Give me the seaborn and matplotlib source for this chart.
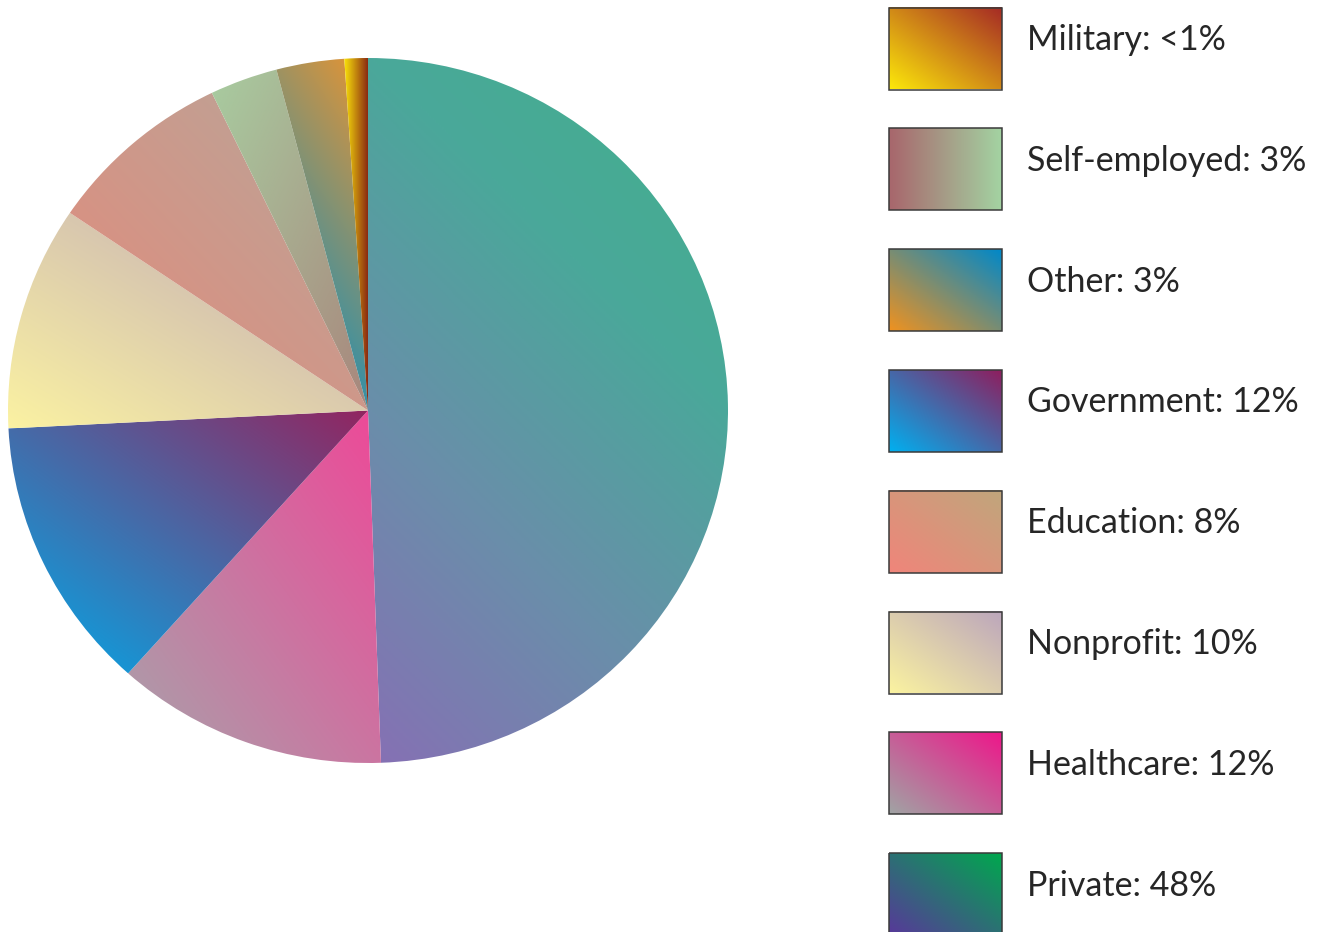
import numpy as np
import matplotlib
matplotlib.use("Agg")
import matplotlib.pyplot as plt
from matplotlib.patches import Rectangle
import seaborn as sns

# ---------------- data ----------------
categories = ["Private", "Healthcare", "Government", "Nonprofit",
              "Education", "Self-employed", "Other", "Military"]
shares = [49.5, 12.2, 12.6, 10.3, 8.4, 3.05, 3.05, 1.05]

legend_order = ["Military", "Self-employed", "Other", "Government",
                "Education", "Nonprofit", "Healthcare", "Private"]
legend_labels = ["Military: <1%", "Self-employed: 3%", "Other: 3%",
                 "Government: 12%", "Education: 8%", "Nonprofit: 10%",
                 "Healthcare: 12%", "Private: 48%"]

# gradient styles: (colour stops, start point, end point) in bbox-normalised coords
slice_grad = {
    "Private":       (["#8670b4", "#6a8eaa", "#4aa89a", "#42b08a"], (0, 0), (0.61, 1.2)),
    "Healthcare":    (["#a8a2aa", "#ee4898"], (0, 0), (1, 1)),
    "Government":    (["#00aaea", "#922560"], (0, 0), (1, 1)),
    "Nonprofit":     (["#fbf2a2", "#bfa8b8"], (0, 0), (1, 1)),
    "Education":     (["#e48a7a", "#b8a69a"], (0, 0), (1, 1)),
    "Self-employed": (["#a86a6e", "#a8cca0"], (1.4, -0.4), (0, 1)),
    "Other":         (["#ea9430", "#1a90b8"], (1, 1), (0.6, 0)),
    "Military":      (["#fbe40a", "#8a2a12"], (0, 0.5), (1, 0.5)),
}
swatch_grad = {
    "Military":      (["#fce80a", "#a52a25"], (0, 0), (1, 1)),
    "Self-employed": (["#a8666c", "#a3d3a2"], (0, 0.5), (1, 0.5)),
    "Other":         (["#f0921f", "#0088c9"], (0, 0), (1, 1)),
    "Government":    (["#00b0f0", "#8e1e5e"], (0, 0), (1, 1)),
    "Education":     (["#f0857a", "#c0a67c"], (0, 0), (1, 1)),
    "Nonprofit":     (["#fbf3a0", "#bca6bc"], (0, 0), (1, 1)),
    "Healthcare":    (["#a0a4a4", "#ee168a"], (0, 0), (1, 1)),
    "Private":       (["#58389a", "#00a84e"], (0, 0), (1, 1)),
}

sns.set_theme(style="white")
plt.rcParams["font.family"] = ["Lato", "DejaVu Sans"]


def gradient_image(stops, p0, p1, n=300):
    cmap = sns.blend_palette(stops, as_cmap=True)
    u, v = np.meshgrid(np.linspace(0, 1, n), np.linspace(0, 1, n))
    d = np.array(p1, float) - np.array(p0, float)
    t = ((u - p0[0]) * d[0] + (v - p0[1]) * d[1]) / (d @ d)
    return cmap(np.clip(t, 0, 1))


W, H = 1328, 932
fig = plt.figure(figsize=(W / 100, H / 100), dpi=100)
fig.patch.set_facecolor("white")

# ---------------- legend (pixel coordinates) ----------------
lax = fig.add_axes([0, 0, 1, 1])
lax.axis("off")

sw_x, sw_w, sw_h = 889, 112.5, 82
sw_top0, sw_step = 7.5, 120.8
for i, (cat, lab) in enumerate(zip(legend_order, legend_labels)):
    top = sw_top0 + i * sw_step
    stops, p0, p1 = swatch_grad[cat]
    lax.imshow(gradient_image(stops, p0, p1), extent=[sw_x, sw_x + sw_w, top + sw_h, top],
               origin="lower", aspect="auto", interpolation="bilinear", zorder=1)
    lax.add_patch(Rectangle((sw_x, top), sw_w, sw_h, fill=False, lw=1.1,
                            edgecolor="#3a3a3a", zorder=2))
    lax.text(1027, top + 42.5, lab, fontsize=24.5, fontweight="normal",
             va="baseline", ha="left", color="#262626")
lax.set_xlim(0, W)
lax.set_ylim(H, 0)

# ---------------- pie ----------------
ax = fig.add_axes([8 / W, (H - 763) / H, 720 / W, 705 / H])
wedges, _ = ax.pie(shares, startangle=90, counterclock=False, radius=1,
                   wedgeprops=dict(linewidth=0))
for w, cat in zip(wedges, categories):
    stops, p0, p1 = slice_grad[cat]
    verts = w.get_path().vertices
    x0, y0 = verts.min(axis=0)
    x1, y1 = verts.max(axis=0)
    im = ax.imshow(gradient_image(stops, p0, p1), extent=[x0, x1, y0, y1],
                   origin="lower", aspect="auto", interpolation="bilinear", zorder=1)
    im.set_clip_path(w)
    w.set_facecolor("none")
ax.set_aspect("auto")
ax.set_xlim(-1, 1)
ax.set_ylim(-1, 1)
ax.axis("off")

fig.savefig("out.png", dpi=100, facecolor="white")
